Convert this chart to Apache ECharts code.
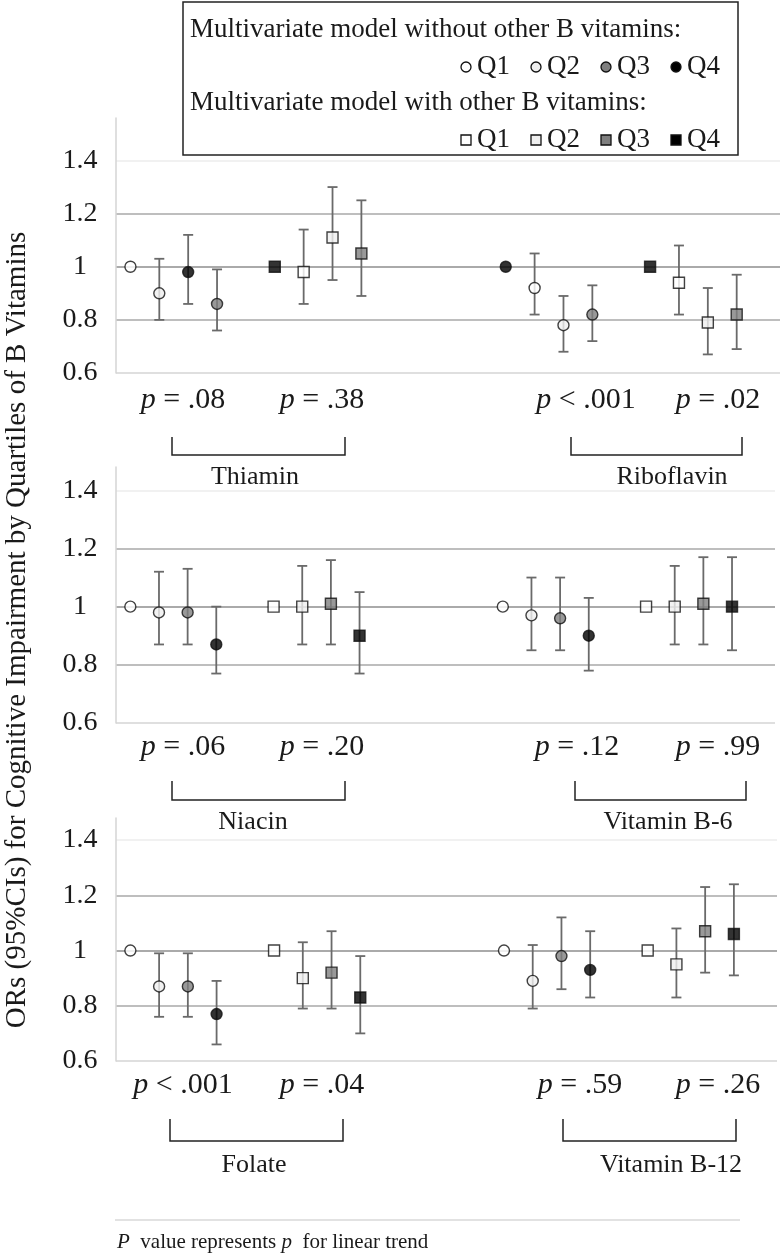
<!DOCTYPE html>
<html>
<head>
<meta charset="utf-8">
<script src="https://cdn.jsdelivr.net/npm/echarts@6/dist/echarts.min.js"></script>
<style>
  html, body { margin: 0; background: #fff; }
  #chart { width: 784px; height: 1260px; }
</style>
</head>
<body>
<div id="chart"></div>
<script>
const SERIF = '"Liberation Serif", "DejaVu Serif", serif';

// each vitamin: 4 circles (model without other B vitamins) then 4 squares (with them)
// *Q = quartile shown by the marker fill, *OR = odds ratio, *Lo/*Hi = 95% CI (null = reference, no bar)
const thiaminQ = ['Q1', 'Q2', 'Q4', 'Q3', 'Q4', 'Q1', 'Q2', 'Q3'];
const thiaminOR = [1.00, 0.90, 0.98, 0.86, 1.00, 0.98, 1.11, 1.05];
const thiaminLo = [null, 0.80, 0.86, 0.76, null, 0.86, 0.95, 0.89];
const thiaminHi = [null, 1.03, 1.12, 0.99, null, 1.14, 1.30, 1.25];

const riboflavinQ = ['Q4', 'Q1', 'Q2', 'Q3', 'Q4', 'Q1', 'Q2', 'Q3'];
const riboflavinOR = [1.00, 0.92, 0.78, 0.82, 1.00, 0.94, 0.79, 0.82];
const riboflavinLo = [null, 0.82, 0.68, 0.72, null, 0.82, 0.67, 0.69];
const riboflavinHi = [null, 1.05, 0.89, 0.93, null, 1.08, 0.92, 0.97];

const niacinQ = ['Q1', 'Q2', 'Q3', 'Q4', 'Q1', 'Q2', 'Q3', 'Q4'];
const niacinOR = [1.00, 0.98, 0.98, 0.87, 1.00, 1.00, 1.01, 0.90];
const niacinLo = [null, 0.87, 0.87, 0.77, null, 0.87, 0.87, 0.77];
const niacinHi = [null, 1.12, 1.13, 1.00, null, 1.14, 1.16, 1.05];

const b6Q = ['Q1', 'Q2', 'Q3', 'Q4', 'Q1', 'Q2', 'Q3', 'Q4'];
const b6OR = [1.00, 0.97, 0.96, 0.90, 1.00, 1.00, 1.01, 1.00];
const b6Lo = [null, 0.85, 0.85, 0.78, null, 0.87, 0.87, 0.85];
const b6Hi = [null, 1.10, 1.10, 1.03, null, 1.14, 1.17, 1.17];

const folateQ = ['Q1', 'Q2', 'Q3', 'Q4', 'Q1', 'Q2', 'Q3', 'Q4'];
const folateOR = [1.00, 0.87, 0.87, 0.77, 1.00, 0.90, 0.92, 0.83];
const folateLo = [null, 0.76, 0.76, 0.66, null, 0.79, 0.79, 0.70];
const folateHi = [null, 0.99, 0.99, 0.89, null, 1.03, 1.07, 0.98];

const b12Q = ['Q1', 'Q2', 'Q3', 'Q4', 'Q1', 'Q2', 'Q3', 'Q4'];
const b12OR = [1.00, 0.89, 0.98, 0.93, 1.00, 0.95, 1.07, 1.06];
const b12Lo = [null, 0.79, 0.86, 0.83, null, 0.83, 0.92, 0.91];
const b12Hi = [null, 1.02, 1.12, 1.07, null, 1.08, 1.23, 1.24];

// p for linear trend: [without, with]
const thiaminP = ['= .08', '= .38'];
const riboflavinP = ['< .001', '= .02'];
const niacinP = ['= .06', '= .20'];
const b6P = ['= .12', '= .99'];
const folateP = ['< .001', '= .04'];
const b12P = ['= .59', '= .26'];

const yTicks = [0.6, 0.8, 1.0, 1.2, 1.4];
const quartiles = ['Q1', 'Q2', 'Q3', 'Q4'];

// ---- styling / layout ----
const FILL = { Q1: '#ffffff', Q2: '#efefef', Q3: '#7f7f7f', Q4: '#000000' };
const SLOTS_L = [0, 1, 2, 3, 5, 6, 7, 8];
const SLOTS_R = [13, 14, 15, 16, 18, 19, 20, 21];
const BAR = '#6a6a6a';

const panels = [
  { top: 118, h: 255, right: 4, max: 1.56, pY: 400, brY: [437, 455], nameY: 477,
    brL: [172, 345], brR: [571, 742], pX: [183, 322, 586, 718], nameX: [255, 672],
    L: { name: 'Thiamin', q: thiaminQ, or: thiaminOR, lo: thiaminLo, hi: thiaminHi, p: thiaminP },
    R: { name: 'Riboflavin', q: riboflavinQ, or: riboflavinOR, lo: riboflavinLo, hi: riboflavinHi, p: riboflavinP } },
  { top: 467, h: 256, right: 9, max: 1.48, pY: 747, brY: [781, 800], nameY: 822,
    brL: [172, 345], brR: [575, 746], pX: [183, 322, 577, 718], nameX: [253, 668],
    L: { name: 'Niacin', q: niacinQ, or: niacinOR, lo: niacinLo, hi: niacinHi, p: niacinP },
    R: { name: 'Vitamin B-6', q: b6Q, or: b6OR, lo: b6Lo, hi: b6Hi, p: b6P } },
  { top: 818, h: 243, right: 7, max: 1.48, pY: 1085, brY: [1119, 1141], nameY: 1165,
    brL: [170, 343], brR: [563, 736], pX: [183, 322, 580, 718], nameX: [254, 671],
    L: { name: 'Folate', q: folateQ, or: folateOR, lo: folateLo, hi: folateHi, p: folateP },
    R: { name: 'Vitamin B-12', q: b12Q, or: b12OR, lo: b12Lo, hi: b12Hi, p: b12P } }
];

const grid = [], xAxis = [], yAxis = [], series = [], graphic = [];

panels.forEach((pn, i) => {
  grid.push({ left: 116, right: pn.right, top: pn.top, height: pn.h });
  xAxis.push({ gridIndex: i, type: 'value', min: -0.5, max: 22.5, show: false });
  yAxis.push({
    gridIndex: i, type: 'value', min: yTicks[0], max: pn.max, interval: 0.2,
    axisLine: { show: true, onZero: false, lineStyle: { color: '#d4d4d4', width: 1.5 } },
    axisTick: { show: false },
    axisLabel: {
      showMaxLabel: false, margin: 36, align: 'center',
      color: '#1a1a1a', fontFamily: SERIF, fontSize: 28,
      formatter: v => (yTicks.some(t => Math.abs(t - v) < 1e-6) ? String(+v.toFixed(1)) : '')
    },
    splitLine: {
      showMaxLine: false,
      lineStyle: { color: ['#d4d4d4', '#a9a9a9', '#8e8e8e', '#a9a9a9', '#ececec'], width: 1.5 }
    }
  });

  const circles = [], squares = [], bars = [];
  [[pn.L, SLOTS_L], [pn.R, SLOTS_R]].forEach(([v, slots]) => {
    v.or.forEach((o, k) => {
      const pt = { value: [slots[k], o], itemStyle: { color: FILL[v.q[k]] } };
      (k < 4 ? circles : squares).push(pt);
      if (v.lo[k] != null) bars.push([slots[k], v.lo[k], v.hi[k]]);
    });
  });

  series.push({
    type: 'custom', xAxisIndex: i, yAxisIndex: i, z: 2, silent: true,
    data: bars,
    renderItem: (params, api) => {
      const a = api.coord([api.value(0), api.value(2)]);
      const b = api.coord([api.value(0), api.value(1)]);
      const w = 5, st = { stroke: BAR, lineWidth: 1.8 };
      return { type: 'group', children: [
        { type: 'line', shape: { x1: a[0], y1: a[1], x2: b[0], y2: b[1] }, style: st },
        { type: 'line', shape: { x1: a[0] - w, y1: a[1], x2: a[0] + w, y2: a[1] }, style: st },
        { type: 'line', shape: { x1: b[0] - w, y1: b[1], x2: b[0] + w, y2: b[1] }, style: st }
      ] };
    }
  });
  const mk = { borderColor: '#111', borderWidth: 1.4 };
  series.push({ type: 'scatter', xAxisIndex: i, yAxisIndex: i, z: 3, symbol: 'circle',
    symbolSize: 11, itemStyle: mk, data: circles });
  series.push({ type: 'scatter', xAxisIndex: i, yAxisIndex: i, z: 3, symbol: 'rect',
    symbolSize: 11, itemStyle: mk, data: squares });

  // p values, brackets and vitamin names under each panel
  const pTxt = [pn.L.p[0], pn.L.p[1], pn.R.p[0], pn.R.p[1]];
  pTxt.forEach((t, k) => graphic.push({
    type: 'text', x: pn.pX[k], y: pn.pY,
    style: { text: '{i|p} ' + t, rich: { i: { fontStyle: 'italic', fontFamily: SERIF, fontSize: 30 } },
      font: '30px ' + SERIF, fill: '#1a1a1a',
      align: 'center', verticalAlign: 'middle', textAlign: 'center', textVerticalAlign: 'middle' }
  }));
  [pn.brL, pn.brR].forEach(([x1, x2]) => {
    const [y0, y1] = pn.brY;
    graphic.push({ type: 'polyline', shape: { points: [[x1, y0], [x1, y1], [x2, y1], [x2, y0]] },
      style: { fill: null, stroke: '#222', lineWidth: 1.5 } });
  });
  [pn.L.name, pn.R.name].forEach((t, k) => graphic.push({
    type: 'text', x: pn.nameX[k], y: pn.nameY,
    style: { text: t, font: '26px ' + SERIF, fill: '#1a1a1a',
      align: 'center', verticalAlign: 'middle', textAlign: 'center', textVerticalAlign: 'middle' }
  }));
});

// y axis title shared by the three panels
graphic.push({
  type: 'text', x: 17, y: 630, rotation: Math.PI / 2,
  style: { text: 'ORs (95%CIs) for Cognitive Impairment by Quartiles of B Vitamins',
    font: '29px ' + SERIF, fill: '#1a1a1a',
    align: 'center', verticalAlign: 'middle', textAlign: 'center', textVerticalAlign: 'middle' }
});

// footnote
graphic.push({ type: 'line', shape: { x1: 115, y1: 1220, x2: 740, y2: 1220 },
  style: { stroke: '#e2e2e2', lineWidth: 2 } });
graphic.push({
  type: 'text', x: 117, y: 1242,
  style: { text: '{i|P}  value represents {i|p}  for linear trend',
    rich: { i: { fontStyle: 'italic', fontFamily: SERIF, fontSize: 21 } },
    font: '21px ' + SERIF, fill: '#1a1a1a',
    align: 'left', verticalAlign: 'middle', textAlign: 'left', textVerticalAlign: 'middle' }
});

// legend box
const legend = [
  { type: 'rect', shape: { x: 183, y: 2, width: 555, height: 153 },
    style: { fill: '#fff', stroke: '#222', lineWidth: 1.5 } },
  { type: 'text', x: 190, y: 30, style: { text: 'Multivariate model without other B vitamins:',
    font: '27px ' + SERIF, fill: '#1a1a1a', verticalAlign: 'middle', textVerticalAlign: 'middle' } },
  { type: 'text', x: 190, y: 103, style: { text: 'Multivariate model with other B vitamins:',
    font: '27px ' + SERIF, fill: '#1a1a1a', verticalAlign: 'middle', textVerticalAlign: 'middle' } }
];
[[67, 'circle'], [140, 'rect']].forEach(([y, shape]) => {
  quartiles.forEach((q, k) => {
    const cx = 466 + k * 70;
    const st = { fill: FILL[q], stroke: '#111', lineWidth: 1.3 };
    legend.push(shape === 'circle'
      ? { type: 'circle', shape: { cx, cy: y, r: 5 }, style: st }
      : { type: 'rect', shape: { x: cx - 5, y: y - 5, width: 10, height: 10 }, style: st });
    legend.push({ type: 'text', x: cx + 11, y, style: { text: q, font: '27px ' + SERIF,
      fill: '#1a1a1a', verticalAlign: 'middle', textVerticalAlign: 'middle' } });
  });
});
graphic.push({ type: 'group', z: 100, children: legend });

const chart = echarts.init(document.getElementById('chart'), null, { renderer: 'canvas' });
chart.setOption({
  backgroundColor: '#fff',
  animation: false,
  grid, xAxis, yAxis, series, graphic
});
</script>
</body>
</html>
